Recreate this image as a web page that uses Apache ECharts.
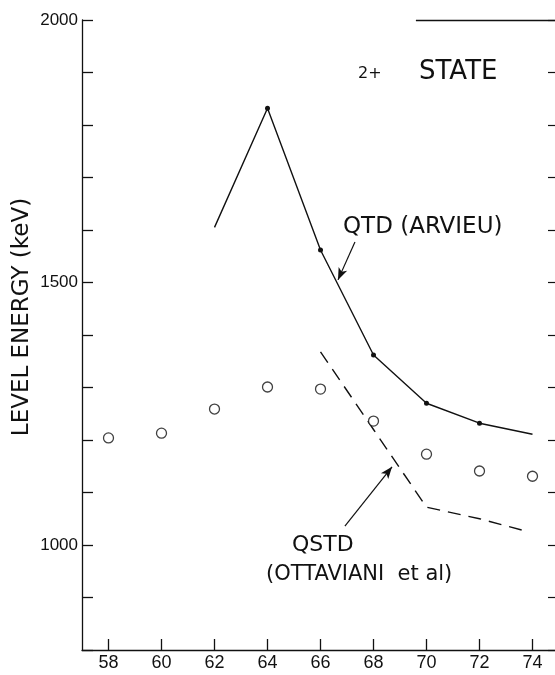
<!DOCTYPE html>
<html>
<head>
<meta charset="utf-8">
<script src="https://cdn.jsdelivr.net/npm/echarts@6/dist/echarts.min.js"></script>
<style>
  html, body { margin: 0; padding: 0; background: #fff; }
  #main { width: 555px; height: 675px; }
</style>
</head>
<body>
<div id="main"></div>
<script>
// neutron number on x, 2+ level energy (keV) on y
var xTicks = [58, 60, 62, 64, 66, 68, 70, 72, 74];
var yLabels = [1000, 1500, 2000];

// measured levels (open circles)
var expX = [58, 60, 62, 64, 66, 68, 70, 72, 74];
var expY = [1204, 1213, 1259, 1301, 1297, 1236, 1173, 1141, 1131];

// QTD (Arvieu), solid line, dots at computed points
var qtdX = [62, 64, 66, 68, 70, 72, 74];
var qtdY = [1605, 1832, 1562, 1362, 1270, 1232, 1211];

// QSTD (Ottaviani et al), dashed
var qstdX = [66, 68, 70, 72, 73.7];
var qstdY = [1368, 1220, 1072, 1050, 1027];

var ink = '#111';
var fontFam = '"DejaVu Sans", "Liberation Sans", sans-serif';

var myChart = echarts.init(document.getElementById('main'));

var expData = [];
for (var i = 0; i < expX.length; i++) {
  expData.push([expX[i], expY[i]]);
}
var qtdData = [];
for (var i = 0; i < qtdX.length; i++) {
  var pt = { value: [qtdX[i], qtdY[i]] };
  // the two ends of the curve have no dot
  if (i == 0 || i == qtdX.length - 1) pt.symbol = 'none';
  qtdData.push(pt);
}
var qstdData = [];
for (var i = 0; i < qstdX.length; i++) {
  qstdData.push([qstdX[i], qstdY[i]]);
}

myChart.setOption({
  backgroundColor: '#fff',
  animation: false,
  grid: {
    left: 82,
    top: 20,
    width: 477,
    height: 630,
    outerBoundsMode: 'none'
  },
  xAxis: {
    type: 'value',
    min: 57,
    max: 75,
    interval: 1,
    axisLine: { show: true, lineStyle: { color: ink, width: 1.3 } },
    axisTick: {
      inside: true,
      length: 11,
      lineStyle: { color: ink, width: 1.3 },
      customValues: xTicks
    },
    axisLabel: {
      color: ink,
      fontSize: 18,
      fontFamily: '"Liberation Sans", Arial, sans-serif',
      margin: 4,
      customValues: xTicks
    },
    splitLine: { show: false }
  },
  yAxis: [{
    type: 'value',
    min: 800,
    max: 2000,
    interval: 100,
    axisLine: { show: true, lineStyle: { color: ink, width: 1.3 } },
    axisTick: { inside: true, length: 11, lineStyle: { color: ink, width: 1.3 } },
    axisLabel: {
      color: ink,
      fontSize: 17,
      fontFamily: '"Liberation Sans", Arial, sans-serif',
      margin: 4,
      formatter: function (v) {
        return yLabels.indexOf(v) >= 0 ? String(v) : '';
      }
    },
    splitLine: { show: false }
  }, {
    type: 'value',
    position: 'right',
    min: 800,
    max: 2000,
    interval: 100,
    axisLine: { show: false },
    axisTick: { show: true, inside: true, length: 11, lineStyle: { color: ink, width: 1.2 } },
    axisLabel: { show: false },
    splitLine: { show: false }
  }],
  graphic: [
    {
      type: 'text', x: 22, y: 317, rotation: Math.PI / 2,
      style: {
        text: 'LEVEL ENERGY (keV)', fill: ink, font: '23px ' + fontFam,
        align: 'center', verticalAlign: 'middle'
      }
    },
    {
      type: 'text', x: 358, y: 74,
      style: { text: '2+', fill: ink, font: '16px ' + fontFam, verticalAlign: 'middle' }
    },
    {
      type: 'text', x: 419, y: 72,
      style: { text: 'STATE', fill: ink, font: '26px ' + fontFam, verticalAlign: 'middle' }
    },
    {
      type: 'text', x: 343, y: 227,
      style: { text: 'QTD (ARVIEU)', fill: ink, font: '23px ' + fontFam, verticalAlign: 'middle' }
    },
    {
      type: 'text', x: 292, y: 545,
      style: { text: 'QSTD', fill: ink, font: '22px ' + fontFam, verticalAlign: 'middle' }
    },
    {
      type: 'text', x: 266, y: 575,
      style: { text: '(OTTAVIANI  et al)', fill: ink, font: '21px ' + fontFam, verticalAlign: 'middle' }
    }
  ],
  series: [{
    name: 'exp',
    type: 'scatter',
    data: expData,
    symbol: 'circle',
    symbolSize: 10,
    itemStyle: { color: '#fff', borderColor: ink, borderWidth: 1.3 },
    z: 5
  }, {
    name: 'QTD',
    type: 'line',
    data: qtdData,
    symbol: 'circle',
    symbolSize: 5,
    showSymbol: true,
    itemStyle: { color: ink },
    lineStyle: { color: ink, width: 1.4 },
    markLine: {
      silent: true,
      symbol: ['none', 'arrow'],
      symbolSize: [7, 12],
      label: { show: false },
      lineStyle: { color: ink, width: 1.2, type: 'solid' },
      data: [
        [{ coord: [67.3, 1577] }, { coord: [66.66, 1505] }],
        [{ coord: [66.92, 1036] }, { coord: [68.7, 1149] }]
      ]
    }
  }, {
    name: 'QSTD',
    type: 'line',
    data: qstdData,
    symbol: 'none',
    lineStyle: { color: ink, width: 1.4, type: [13, 8] },
    markLine: {
      silent: true,
      symbol: ['none', 'none'],
      label: { show: false },
      lineStyle: { color: ink, width: 1.3, type: 'solid' },
      // surviving piece of the top frame
      data: [
        [{ coord: [69.6, 2000] }, { coord: [75, 2000] }]
      ]
    }
  }]
});
</script>
</body>
</html>
